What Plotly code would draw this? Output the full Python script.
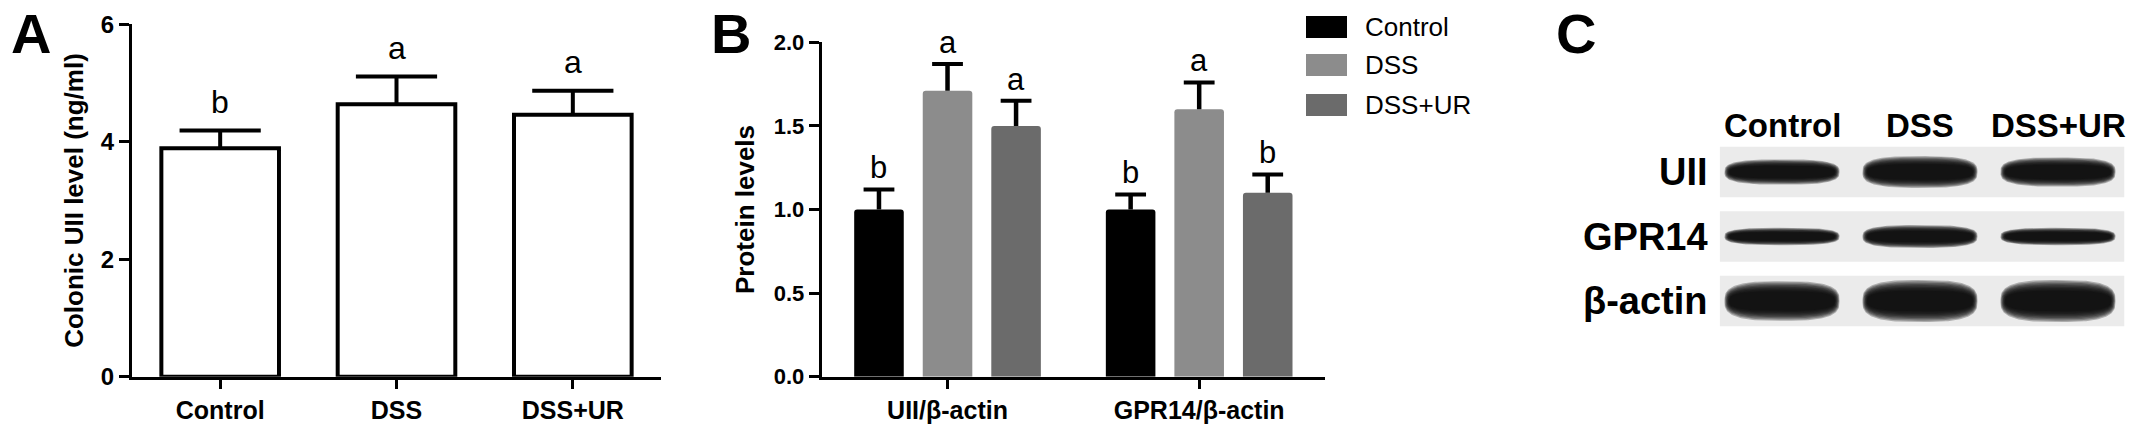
import numpy as np
import plotly.graph_objects as go

W, H = 2150, 432
FONT = "Liberation Sans, Arial, sans-serif"

# ---------------- Panel A data ----------------
a_groups = ["Control", "DSS", "DSS+UR"]
a_mean = [3.89, 4.64, 4.46]
a_sem = [0.30, 0.47, 0.41]
a_letters = ["b", "a", "a"]

# ---------------- Panel B data ----------------
b_categories = ["UII/β-actin", "GPR14/β-actin"]
b_series = ["Control", "DSS", "DSS+UR"]
b_control = [1.00, 1.00]
b_dss = [1.71, 1.60]
b_dssur = [1.50, 1.10]
b_control_sem = [0.12, 0.09]
b_dss_sem = [0.16, 0.16]
b_dssur_sem = [0.15, 0.11]
b_control_letters = ["b", "b"]
b_dss_letters = ["a", "a"]
b_dssur_letters = ["a", "b"]

# ---------------- Panel C data (band intensity, a.u.) ----------------
c_lanes = ["Control", "DSS", "DSS+UR"]
c_rows = ["UII", "GPR14", "β-actin"]
c_uii = [0.80, 1.00, 0.92]
c_gpr14 = [0.55, 0.72, 0.55]
c_actin = [1.25, 1.32, 1.32]


def fx(p):
    return p / W


def fy(p):
    return 1 - p / H


fig = go.Figure()

# ---------- Panel A ----------
a_x = list(range(len(a_groups)))
fig.add_trace(go.Bar(
    x=a_x, y=a_mean, width=0.667, xaxis="x", yaxis="y",
    marker=dict(color="white", line=dict(color="black", width=4)),
    showlegend=False, hoverinfo="skip"))
sx, sy = [], []
for xi, m, s in zip(a_x, a_mean, a_sem):
    sx += [xi, xi, None]
    sy += [m, m + s, None]
fig.add_trace(go.Scatter(x=sx, y=sy, mode="lines", xaxis="x", yaxis="y",
                         line=dict(color="black", width=4), showlegend=False,
                         hoverinfo="skip"))
fig.add_trace(go.Scatter(x=a_x, y=[m + s for m, s in zip(a_mean, a_sem)],
                         mode="markers", xaxis="x", yaxis="y",
                         marker=dict(symbol="line-ew", size=58,
                                     line=dict(color="black", width=4)),
                         showlegend=False, hoverinfo="skip"))

annotations = []
for xi, m, s, t in zip(a_x, a_mean, a_sem, a_letters):
    annotations.append(dict(x=xi, y=m + s, xref="x", yref="y", text=t,
                            showarrow=False, yanchor="bottom", yshift=9,
                            font=dict(family=FONT, size=32, color="black")))

# ---------- Panel B ----------
b_colors = ["#000000", "#8c8c8c", "#6b6b6b"]
b_offsets = [-0.2724, 0.0, 0.2724]
b_vals = [b_control, b_dss, b_dssur]
b_sems = [b_control_sem, b_dss_sem, b_dssur_sem]
b_lets = [b_control_letters, b_dss_letters, b_dssur_letters]
g_x = list(range(len(b_categories)))
for name, col, off, vals in zip(b_series, b_colors, b_offsets, b_vals):
    fig.add_trace(go.Bar(
        x=[g + off for g in g_x], y=vals, width=0.197, name=name,
        xaxis="x2", yaxis="y2", marker=dict(color=col, cornerradius=3,
                                             line=dict(width=0)),
        showlegend=False, hoverinfo="skip"))
sx, sy, cx, cy = [], [], [], []
for off, vals, sems, lets in zip(b_offsets, b_vals, b_sems, b_lets):
    for g, v, s, t in zip(g_x, vals, sems, lets):
        sx += [g + off, g + off, None]
        sy += [v, v + s, None]
        cx.append(g + off)
        cy.append(v + s)
        annotations.append(dict(x=g + off, y=v + s, xref="x2", yref="y2",
                                text=t, showarrow=False, yanchor="bottom",
                                yshift=2,
                                font=dict(family=FONT, size=31, color="black")))
fig.add_trace(go.Scatter(x=sx, y=sy, mode="lines", xaxis="x2", yaxis="y2",
                         line=dict(color="black", width=4.5), showlegend=False,
                         hoverinfo="skip"))
fig.add_trace(go.Scatter(x=cx, y=cy, mode="markers", xaxis="x2", yaxis="y2",
                         marker=dict(symbol="line-ew", size=22,
                                     line=dict(color="black", width=4)),
                         showlegend=False, hoverinfo="skip"))

# custom legend (swatches + labels)
shapes = []
leg_rows = [27, 65, 105]
for name, col, yc in zip(b_series, b_colors, leg_rows):
    shapes.append(dict(type="rect", xref="paper", yref="paper",
                       x0=fx(1306), x1=fx(1347), y0=fy(yc + 11), y1=fy(yc - 11),
                       fillcolor=col, line=dict(width=0), layer="above"))
    annotations.append(dict(x=fx(1363), y=fy(yc), xref="paper", yref="paper",
                            text=name, showarrow=False, xanchor="left",
                            yanchor="middle",
                            font=dict(family=FONT, size=26, color="black")))

# ---------- Panel C (western blot) ----------
rows_int = [c_uii, c_gpr14, c_actin]
stx, sty = [], []
for r in range(len(c_rows)):
    stx += [-0.45, 2.48, 2.48, -0.45, -0.45, None]
    sty += [r - 0.39, r - 0.39, r + 0.39, r + 0.39, r - 0.39, None]
fig.add_trace(go.Scatter(x=stx, y=sty, mode="lines", fill="toself",
                         fillcolor="#ebebeb", line=dict(width=0),
                         xaxis="x3", yaxis="y3", showlegend=False,
                         hoverinfo="skip"))

t = np.linspace(0, 2 * np.pi, 160)
ct, st = np.cos(t), np.sin(t)
nexp = 3.0
ux = np.sign(ct) * np.abs(ct) ** (2 / nexp)
uy = np.sign(st) * np.abs(st) ** (2 / nexp)
for scale in np.linspace(1.12, 0.55, 9):
    bx, by = [], []
    for r, ints in enumerate(rows_int):
        for l, d in enumerate(ints):
            a = 0.41 * (0.85 + 0.15 * scale)
            b = 0.22 * d * scale
            bx += list(l + a * ux) + [None]
            by += list(r + b * uy) + [None]
    fig.add_trace(go.Scatter(x=bx, y=by, mode="lines", fill="toself",
                             fillcolor="rgba(8,8,8,0.27)", line=dict(width=0),
                             xaxis="x3", yaxis="y3", showlegend=False,
                             hoverinfo="skip"))

for l, name in enumerate(c_lanes):
    annotations.append(dict(x=l, y=-0.72, xref="x3", yref="y3", text=f"<b>{name}</b>",
                            showarrow=False, yanchor="middle",
                            font=dict(family=FONT, size=33, color="black")))
for r, name in enumerate(c_rows):
    annotations.append(dict(x=-0.52, y=r, xref="x3", yref="y3", text=f"<b>{name}</b>",
                            showarrow=False, xanchor="right", yanchor="middle",
                            font=dict(family=FONT, size=38, color="black")))

for letter, xc in [("A", 31), ("B", 731), ("C", 1576)]:
    annotations.append(dict(x=fx(xc), y=1.0, xref="paper", yref="paper",
                            text=f"<b>{letter}</b>", showarrow=False,
                            xanchor="center", yanchor="top",
                            font=dict(family=FONT, size=56, color="black")))

axis_common = dict(showline=True, linecolor="black", showgrid=False,
                   zeroline=False, ticks="outside", tickcolor="black",
                   automargin=False)

# panel C axis: lanes 138 px apart (lane 0 at x 1782), rows 64.5 px apart (row 0 at y 172)
LANE_PX, LANE0 = 138.0, 1782.0
ROW_PX, ROW0 = 64.5, 172.0
x3_left = 1560.0

fig.update_layout(
    template="none",
    width=W, height=H, margin=dict(l=0, r=0, t=0, b=0, pad=0, autoexpand=False),
    paper_bgcolor="white", plot_bgcolor="white", barmode="overlay",
    font=dict(family=FONT, color="black"), showlegend=False,
    xaxis=dict(domain=[fx(132), fx(661)], range=[-0.5, 2.5],
               tickvals=a_x, ticktext=a_groups, linewidth=3, ticklen=9,
               tickwidth=3, tickfont=dict(family=FONT, size=25, weight="bold"),
               anchor="y", **axis_common),
    yaxis=dict(domain=[fy(376.7), fy(24.3)], range=[0, 6], tickvals=[0, 2, 4, 6],
               linewidth=3, ticklen=10, tickwidth=3,
               tickfont=dict(family=FONT, size=24, weight="bold"),
               title=dict(text="Colonic UII level (ng/ml)", standoff=10,
                          font=dict(family=FONT, size=26, weight="bold")),
               anchor="x", **axis_common),
    xaxis2=dict(domain=[fx(821.7), fx(1325)], range=[-0.5, 1.5],
                tickvals=g_x, ticktext=b_categories, linewidth=3, ticklen=9,
                tickwidth=3, tickfont=dict(family=FONT, size=25, weight="bold"),
                anchor="y2", **axis_common),
    yaxis2=dict(domain=[fy(376.7), fy(42.3)], range=[0, 2],
                tickvals=[0, 0.5, 1.0, 1.5, 2.0], tickformat=".1f",
                linewidth=3, ticklen=10, tickwidth=3,
                tickfont=dict(family=FONT, size=22, weight="bold"),
                title=dict(text="Protein levels", standoff=12,
                           font=dict(family=FONT, size=26, weight="bold")),
                anchor="x2", **axis_common),
    xaxis3=dict(domain=[fx(x3_left), 1.0],
                range=[(x3_left - LANE0) / LANE_PX, (W - LANE0) / LANE_PX],
                visible=False, anchor="y3", automargin=False),
    yaxis3=dict(domain=[0.0, 1.0],
                range=[(H - ROW0) / ROW_PX, (0 - ROW0) / ROW_PX],
                visible=False, anchor="x3", automargin=False),
    shapes=shapes,
    annotations=annotations,
)

# remove the browser's default 8px body margin so the figure fills the window
fig.write_html("out.html",
               config={"displayModeBar": False, "staticPlot": True},
               post_script="document.body.style.margin='0';"
                           "document.body.style.overflow='hidden';")
